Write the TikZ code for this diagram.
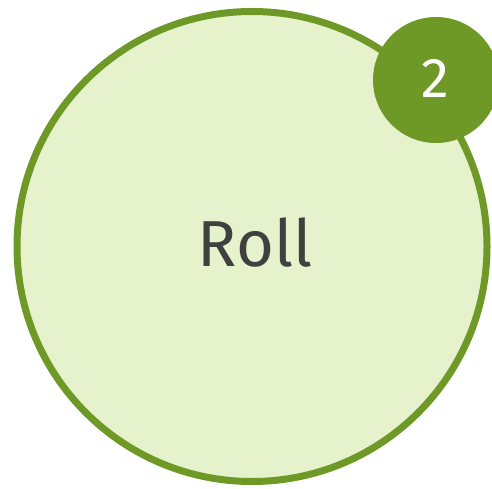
\documentclass[tikz,border=0pt]{standalone}
\usepackage{fontspec}
\setmainfont{Fira Sans}
\definecolor{lightgreen}{HTML}{E5F2CC}
\definecolor{darkgreen}{HTML}{6E9926}
\definecolor{textgray}{HTML}{404040}
\tikzset{
  bigcircle/.style={circle, draw=darkgreen, line width=7pt, fill=lightgreen, minimum size=470pt, inner sep=0pt},
  badge/.style={circle, fill=darkgreen, minimum size=126pt, inner sep=0pt},
  numtext/.style={text=white, font=\fontsize{56}{60}\selectfont},
  label/.style={text=textgray, font=\fontsize{65}{70}\selectfont}
}
\begin{document}
\begin{tikzpicture}[x=1pt,y=-1pt]
  \useasboundingbox (0,0) rectangle (492,489);
  \begin{scope}
    \clip (0,0) rectangle (492,489);
    \node[bigcircle] (main) at (252,246.5) {};
    \node[label] (roll) at (255,243) {Roll};
    \node[badge] (num) at (436,80) {};
    \node[numtext] (two) at (435,78) {2};
  \end{scope}
\end{tikzpicture}
\end{document}
